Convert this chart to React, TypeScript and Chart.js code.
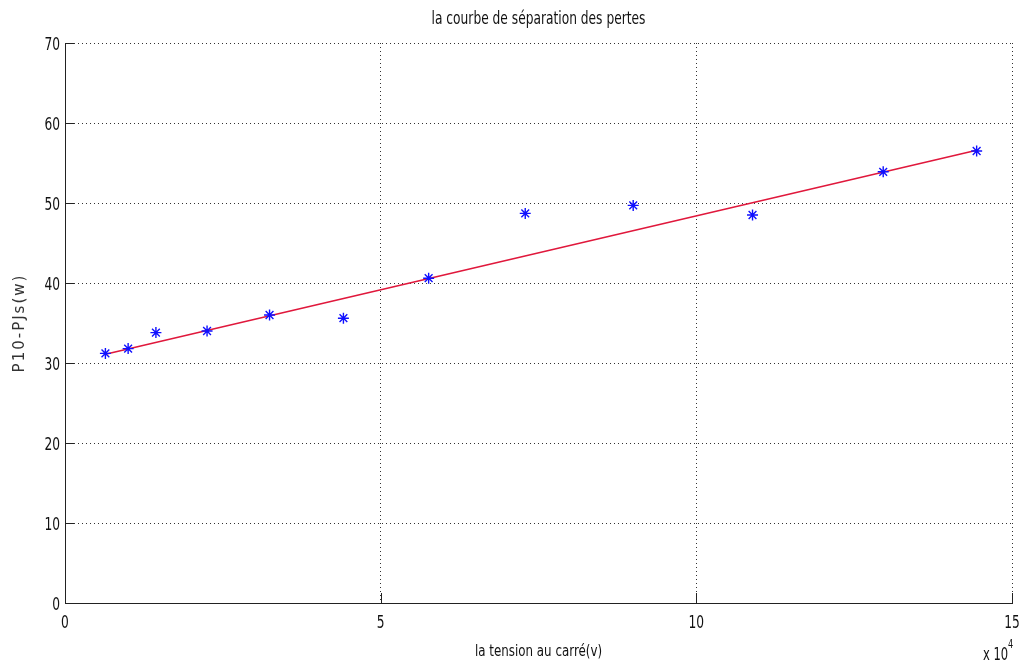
import React, { useEffect, useRef } from "react";
import { Chart, registerables } from "chart.js";

Chart.register(...registerables);

// Measured points: x = voltage squared (V^2), y = P10 - PJs (W)
const xValues = [6400, 10000, 14400, 22500, 32400, 44100, 57600, 72900, 90000, 108900, 129600, 144400];
const yValues = [31.2, 31.8, 33.8, 34.0, 36.0, 35.6, 40.6, 48.7, 49.7, 48.5, 53.9, 56.5];

// Fitted straight line (end points)
const fitX = [6400, 144400];
const fitY = [31.1, 56.6];

const xTicks = [0, 50000, 100000, 150000];
const xTickLabels = ["0", "5", "10", "15"];
const yTicks = [0, 10, 20, 30, 40, 50, 60, 70];
const yTickLabels = ["0", "10", "20", "30", "40", "50", "60", "70"];

const titleText = "la courbe de séparation des pertes";
const xLabel = "la tension au carré(v)";
const yLabel = "P10-PJs(w)";

const FONT = "'DejaVu Sans', 'Liberation Sans', Arial, sans-serif";
const SQ = 0.68; // horizontal squeeze of the narrow MATLAB-like font

function squeezedText(ctx: any, text: string, x: number, y: number, size: number, align: string, sx: number) {
  ctx.save();
  ctx.font = `${size}px ${FONT}`;
  ctx.textAlign = align;
  ctx.textBaseline = "alphabetic";
  ctx.translate(x, y);
  ctx.scale(sx, 1);
  ctx.fillText(text, 0, 0);
  ctx.restore();
}

const decorPlugin = {
  id: "decor",
  afterDraw(chart: any) {
    const { ctx, chartArea } = chart;
    const { left, right, top, bottom } = chartArea;
    const xs = chart.scales.x;
    const ys = chart.scales.y;
    ctx.save();
    // inward ticks
    ctx.strokeStyle = "#222";
    ctx.lineWidth = 1;
    ctx.beginPath();
    xTicks.forEach((t) => {
      const px = Math.round(xs.getPixelForValue(t)) + 0.5;
      ctx.moveTo(px, bottom);
      ctx.lineTo(px, bottom - 10);
    });
    yTicks.forEach((t) => {
      const py = Math.round(ys.getPixelForValue(t)) + 0.5;
      ctx.moveTo(left, py);
      ctx.lineTo(left + 9, py);
    });
    ctx.stroke();

    ctx.fillStyle = "#111";
    // tick labels
    xTicks.forEach((t, i) => {
      squeezedText(ctx, xTickLabels[i], xs.getPixelForValue(t), bottom + 25, 18, "center", SQ);
    });
    yTicks.forEach((t, i) => {
      squeezedText(ctx, yTickLabels[i], left - 5, ys.getPixelForValue(t) + 6.5, 18, "right", SQ);
    });
    // title
    squeezedText(ctx, titleText, (left + right) / 2, 24, 17, "center", 0.72);
    // x label
    squeezedText(ctx, xLabel, (left + right) / 2, 656, 16.5, "center", 0.72);
    // y label
    ctx.save();
    ctx.fillStyle = "#333";
    ctx.font = `15px ${FONT}`;
    ctx.textAlign = "center";
    ctx.textBaseline = "alphabetic";
    (ctx as any).letterSpacing = "2px";
    ctx.translate(24, (top + bottom) / 2);
    ctx.rotate(-Math.PI / 2);
    ctx.fillText(yLabel, 0, 0);
    ctx.restore();
    // x 10^4
    squeezedText(ctx, "x 10", 983, 660, 17, "left", SQ);
    squeezedText(ctx, "4", 1008, 648, 12, "left", SQ);
    ctx.restore();
  },
};

export default function App() {
  const canvasRef = useRef<HTMLCanvasElement>(null);

  useEffect(() => {
    if (!canvasRef.current) return;
    const chart = new Chart(canvasRef.current, {
      type: "scatter",
      data: {
        datasets: [
          {
            label: "mesures",
            data: xValues.map((x, i) => ({ x, y: yValues[i] })),
            pointStyle: "star",
            pointRadius: 5.5,
            pointHoverRadius: 5.5,
            borderColor: "#1010ff",
            backgroundColor: "#1010ff",
            borderWidth: 1.4,
            showLine: false,
          },
          {
            label: "fit",
            data: fitX.map((x, i) => ({ x, y: fitY[i] })),
            showLine: true,
            borderColor: "#e0183c",
            borderWidth: 1.6,
            pointRadius: 0,
          },
        ],
      },
      options: {
        animation: false,
        responsive: true,
        maintainAspectRatio: false,
        layout: { padding: { top: 43, right: 8, left: 0, bottom: 0 } },
        plugins: {
          legend: { display: false },
          title: { display: false },
          tooltip: { enabled: false },
        },
        scales: {
          x: {
            type: "linear",
            min: 0,
            max: 150000,
            afterFit: (s: any) => {
              s.height = 66;
            },
            afterBuildTicks: (s: any) => {
              s.ticks = xTicks.map((v) => ({ value: v }));
            },
            ticks: { display: false },
            grid: {
              color: "#333",
              drawTicks: false,
              lineWidth: 1,
            },
            border: { display: true, color: "#222", width: 1, dash: [1, 3] },
          },
          y: {
            type: "linear",
            min: 0,
            max: 70,
            afterFit: (s: any) => {
              s.width = 65;
            },
            afterBuildTicks: (s: any) => {
              s.ticks = yTicks.map((v) => ({ value: v }));
            },
            ticks: { display: false },
            grid: {
              color: "#333",
              drawTicks: false,
              lineWidth: 1,
            },
            border: { display: true, color: "#222", width: 1, dash: [1, 3] },
          },
        },
      },
      plugins: [decorPlugin],
    });
    return () => chart.destroy();
  }, []);

  return (
    <div style={{ position: "absolute", left: 0, top: 0, width: 1020, height: 669, background: "#fff" }}>
      <canvas ref={canvasRef} />
    </div>
  );
}
